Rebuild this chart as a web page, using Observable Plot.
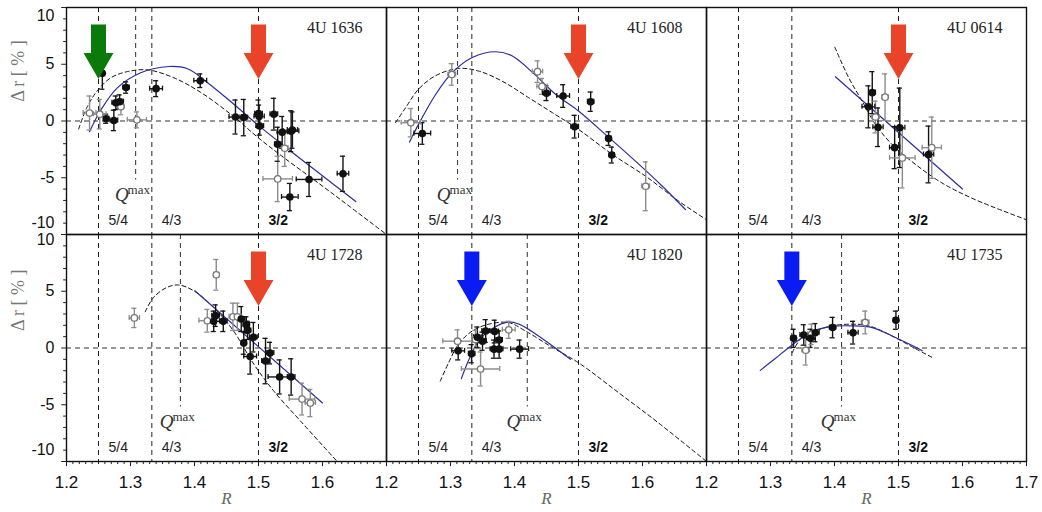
<!DOCTYPE html>
<html><head><meta charset="utf-8">
<script src="https://cdn.jsdelivr.net/npm/d3@7"></script>
<script src="https://cdn.jsdelivr.net/npm/@observablehq/plot@0.6"></script>
<style>body{margin:0;background:#fff}#chart{width:1042px;height:512px}</style>
</head><body><div id="chart"></div>
<script>
// ---- data ----
const sources = ["4U 1636", "4U 1608", "4U 0614", "4U 1728", "4U 1820", "4U 1735"];
const qmaxR = [1.308, 1.311, null, 1.378, 1.420, 1.411];
const arrowR = [[1.25, 1.5], [1.5], [1.5], [1.5], [4 / 3], [4 / 3]];
const arrowKind = [["green", "red"], ["red"], ["red"], ["red"], ["blue"], ["blue"]];
const resonances = [1.25, 4 / 3, 1.5];
const resonanceLabels = ["5/4", "4/3", "3/2"];
const xTickLabels = [[1.2, 1.3, 1.4, 1.5, 1.6], [1.2, 1.3, 1.4, 1.5, 1.6], [1.2, 1.3, 1.4, 1.5, 1.6, 1.7]];
const yTickLabels = [10, 5, 0, -5, -10];

// points: [R, delta r, xerr, yerr, open]
const pts1636 = [
  [1.256, 4.2, 0.003, 1.4, 0], [1.262, 0.2, 0.004, 0.4, 0], [1.274, 0.05, 0.006, 0.9, 0],
  [1.277, 1.6, 0.006, 0.6, 0], [1.283, 1.7, 0.006, 0.6, 0], [1.293, 2.95, 0.005, 0.5, 0],
  [1.340, 2.85, 0.010, 0.7, 0], [1.409, 3.55, 0.010, 0.6, 0], [1.464, 0.35, 0.010, 1.5, 0],
  [1.477, 0.3, 0.006, 1.6, 0], [1.500, 0.65, 0.006, 1.2, 0], [1.501, 0.4, 0.008, 1.0, 0],
  [1.502, -0.45, 0.006, 0.8, 0], [1.524, 0.6, 0.006, 1.4, 0], [1.537, -1.0, 0.008, 1.4, 0],
  [1.530, -2.05, 0.005, 1.5, 0], [1.551, -0.9, 0.012, 1.8, 0], [1.553, -0.8, 0.008, 1.6, 0],
  [1.579, -5.15, 0.020, 1.5, 0], [1.549, -6.7, 0.013, 1.2, 0], [1.632, -4.65, 0.009, 1.55, 0],
  [1.236, 0.7, 0.010, 1.5, 1], [1.252, 0.6, 0.010, 1.3, 1], [1.285, 1.25, 0.005, 0.7, 1],
  [1.310, 0.1, 0.015, 0.7, 1], [1.541, -2.4, 0.005, 1.6, 1], [1.530, -5.1, 0.023, 2.0, 1]
];
const pts1608 = [
  [1.256, -1.1, 0.013, 0.95, 0], [1.450, 2.45, 0.006, 0.65, 0], [1.476, 2.2, 0.010, 1.0, 0],
  [1.494, -0.5, 0.006, 1.0, 0], [1.519, 1.7, 0.005, 0.85, 0], [1.547, -1.55, 0.004, 0.6, 0],
  [1.552, -3.0, 0.004, 0.7, 0],
  [1.238, -0.15, 0.015, 1.25, 1], [1.302, 4.1, 0.006, 0.95, 1], [1.436, 4.35, 0.008, 0.95, 1],
  [1.443, 3.05, 0.008, 0.7, 1], [1.605, -5.75, 0.006, 2.15, 1]
];
const pts0614 = [
  [1.459, 2.5, 0.005, 1.85, 0], [1.453, 1.25, 0.010, 1.85, 0], [1.468, -0.55, 0.008, 1.7, 0],
  [1.494, -2.35, 0.008, 1.85, 0], [1.502, -0.6, 0.008, 3.5, 0], [1.547, -2.95, 0.008, 2.5, 0],
  [1.479, 2.1, 0.005, 2.05, 1], [1.464, 0.35, 0.006, 1.4, 1], [1.506, -3.25, 0.020, 2.65, 1],
  [1.552, -2.35, 0.015, 2.7, 1]
];
const pts1728 = [
  [1.433, 2.85, 0.006, 0.95, 0], [1.430, 2.35, 0.010, 0.9, 0], [1.445, 2.35, 0.006, 0.9, 0],
  [1.473, 2.55, 0.006, 1.1, 0], [1.481, 2.05, 0.005, 0.7, 0], [1.483, 1.55, 0.005, 0.8, 0],
  [1.477, 0.45, 0.004, 1.0, 0], [1.492, 0.95, 0.006, 1.3, 0], [1.487, -0.75, 0.010, 1.55, 0],
  [1.511, -1.15, 0.006, 2.0, 0], [1.518, -0.45, 0.006, 0.95, 0], [1.533, -2.55, 0.018, 1.5, 0],
  [1.551, -2.55, 0.006, 1.6, 0],
  [1.306, 2.65, 0.008, 0.85, 1], [1.434, 6.45, 0.004, 1.35, 1], [1.420, 2.4, 0.013, 1.0, 1],
  [1.460, 2.75, 0.006, 1.2, 1], [1.467, 2.75, 0.006, 1.2, 1], [1.568, -4.5, 0.020, 1.4, 1],
  [1.581, -4.85, 0.008, 1.2, 1]
];
const pts1820 = [
  [1.312, -0.25, 0.010, 0.8, 0], [1.333, -0.5, 0.005, 0.8, 0], [1.342, 0.95, 0.006, 0.9, 0],
  [1.350, 0.6, 0.006, 0.8, 0], [1.355, 1.5, 0.006, 1.0, 0], [1.369, 1.45, 0.006, 1.0, 0],
  [1.376, 0.7, 0.005, 0.8, 0], [1.368, -0.1, 0.006, 0.8, 0], [1.376, -0.1, 0.006, 0.8, 0],
  [1.408, -0.1, 0.014, 0.8, 0],
  [1.311, 0.6, 0.023, 1.0, 1], [1.339, 0.75, 0.006, 0.8, 1], [1.347, -1.85, 0.030, 1.5, 1],
  [1.391, 1.6, 0.010, 0.75, 1]
];
const pts1735 = [
  [1.336, 0.85, 0.004, 0.8, 0], [1.352, 1.15, 0.006, 0.9, 0], [1.3625, 0.85, 0.006, 0.8, 0],
  [1.370, 1.35, 0.006, 0.8, 0], [1.397, 1.8, 0.005, 0.9, 0], [1.429, 1.35, 0.008, 1.0, 0],
  [1.496, 2.45, 0.004, 0.8, 0],
  [1.355, -0.2, 0.006, 1.3, 1], [1.364, 1.2, 0.006, 0.9, 1], [1.448, 2.25, 0.006, 1.0, 1]
];

// model curves: [R, delta r]
const dash1636 = [[1.219, -0.7], [1.232, 1.2], [1.248, 2.65], [1.269, 3.8], [1.295, 4.35], [1.327, 4.5], [1.368, 3.8], [1.409, 2.55], [1.461, 0.4], [1.498, -1.4], [1.539, -3.2], [1.592, -5.4], [1.644, -7.6], [1.700, -10]];
const fit1636 = [[1.236, -0.95], [1.253, 0.9], [1.279, 2.9], [1.316, 4.25], [1.360, 4.8], [1.389, 4.6], [1.420, 3.4], [1.461, 1.5], [1.498, -0.3], [1.550, -2.65], [1.597, -4.7], [1.652, -7.1]];
const dash1608 = [[1.214, -0.15], [1.230, 1.18], [1.250, 2.8], [1.277, 4.0], [1.313, 4.63], [1.344, 4.4], [1.381, 3.5], [1.422, 2.06], [1.459, 0.74], [1.500, -0.74], [1.553, -2.95], [1.605, -4.87], [1.657, -7.08], [1.700, -8.7]];
const fit1608 = [[1.236, -1.86], [1.250, -0.3], [1.277, 2.36], [1.303, 4.28], [1.334, 5.6], [1.370, 6.1], [1.396, 5.75], [1.428, 4.28], [1.464, 2.36], [1.500, 0.88], [1.542, -1.18], [1.589, -3.54], [1.631, -5.75], [1.667, -7.8]];
const dash0614 = [[1.4005, 6.5], [1.422, 3.84], [1.443, 1.77], [1.464, -0.3], [1.490, -2.07], [1.527, -3.84], [1.568, -5.46], [1.620, -6.93], [1.700, -8.7]];
const fit0614 = [[1.4014, 3.9], [1.600, -5.99]];
const dash1728 = [[1.323, 3.19], [1.336, 4.45], [1.357, 5.34], [1.375, 5.55], [1.399, 5.04], [1.430, 3.57], [1.461, 1.5], [1.493, -1.45], [1.524, -3.8], [1.566, -6.46], [1.623, -10]];
const fit1728 = [[1.4005, 5.04], [1.600, -4.84]];
const dash1820 = [[1.284, -2.92], [1.297, -1.3], [1.3125, 0.33], [1.334, 1.5], [1.360, 2.1], [1.391, 2.24], [1.417, 1.5], [1.459, 0.06], [1.500, -1.3], [1.563, -3.95], [1.625, -6.6], [1.700, -10]];
const fit1820 = [[1.317, -2.7], [1.329, -1.0], [1.344, 0.62], [1.365, 1.7], [1.391, 2.3], [1.407, 2.1], [1.433, 1.24], [1.459, 0.2], [1.4875, -1.0]];
const dash1735 = [[1.334, -0.41], [1.3495, 0.97], [1.370, 1.5], [1.396, 1.95], [1.428, 2.1], [1.4536, 1.95], [1.485, 1.2], [1.5266, -0.06], [1.555, -0.9]];
const fit1735 = [[1.284, -1.97], [1.308, -0.9], [1.334, 0.27], [1.365, 1.45], [1.396, 1.9], [1.428, 1.95], [1.459, 1.8], [1.490, 1.06], [1.527, 0.06], [1.537, -0.24]];

// ---- build tables ----
const panelPts = [pts1636, pts1608, pts0614, pts1728, pts1820, pts1735];
const panelDash = [dash1636, dash1608, dash0614, dash1728, dash1820, dash1735];
const panelFit = [fit1636, fit1608, fit0614, fit1728, fit1820, fit1735];
const colOf = i => i % 3, rowOf = i => Math.floor(i / 3);
const palette = {green: "#0a7a0a", red: "#e9432a", blue: "#0b1cf2"};

const points = panelPts.flatMap((arr, i) => arr.map(([x, y, ex, ey, o]) => ({x, y, ex, ey, open: !!o, fx: colOf(i), fy: rowOf(i)})));
const curve = list => list.flatMap((arr, i) => arr.map(([x, y]) => ({x, y, p: i, fx: colOf(i), fy: rowOf(i)})));
const dashRows = curve(panelDash);
const fitRows = curve(panelFit);
const panels = sources.map((name, i) => ({name, q: qmaxR[i], fx: colOf(i), fy: rowOf(i)}));
const resRows = panels.flatMap(p => resonances.map((r, k) => ({x: r, label: resonanceLabels[k], bold: k === 2, fx: p.fx, fy: p.fy})));
const qRows = panels.filter(p => p.q != null);

// arrow polygons
const AT = 8.5, AN = 6.0, ATIP = 3.7, SW = 0.0117, HW = 0.0234;
const arrowRows = arrowR.flatMap((list, i) => list.map((r, k) => ({r, color: palette[arrowKind[i][k]], id: i + "-" + k, fx: colOf(i), fy: rowOf(i)})))
  .flatMap(a => [[a.r - SW, AT], [a.r + SW, AT], [a.r + SW, AN], [a.r + HW, AN], [a.r, ATIP], [a.r - HW, AN], [a.r - SW, AN], [a.r - SW, AT]]
    .map(([x, y]) => ({x, y, id: a.id, color: a.color, fx: a.fx, fy: a.fy})));

// error bars
const barCol = d => d.open ? "#8c8c8c" : "#141414";
const yCaps = points.flatMap(d => [d.y - d.ey, d.y + d.ey].map(v => ({...d, cy: v})));
const xBars = points.filter(d => d.ex > 0);
const xCaps = xBars.flatMap(d => [d.x - d.ex, d.x + d.ex].map(v => ({...d, cx: v})));

// axes
const yTicks = d3.range(-10, 11).map(v => ({v, major: v % 5 === 0, fx: 0}));
const yTickRows = [0, 1].flatMap(r => yTicks.map(t => ({...t, fy: r})));
const yLabelRows = [0, 1].flatMap(r => yTickLabels.map(v => ({v, ly: v === 10 ? (r === 0 ? 9.3 : 9.55) : v === -10 ? -8.95 : v, fx: 0, fy: r})));
const xTickRows = [0, 1, 2].flatMap(c => d3.range(120, 171).map(k => ({v: k / 100, major: k % 10 === 0, fx: c, fy: 1})));
const xLabelRows = xTickLabels.flatMap((arr, c) => arr.map(v => ({v, fx: c, fy: 1})));

const fxy = {fx: "fx", fy: "fy"};
const serif = "Liberation Serif, Times New Roman, serif";
const sans = "Liberation Sans, Arial, sans-serif";

const chart = Plot.plot({
  width: 1042, height: 512,
  marginLeft: 66, marginRight: 16, marginTop: 7, marginBottom: 51,
  style: {fontFamily: sans, background: "#fff"},
  fx: {domain: [0, 1, 2], padding: 0, axis: null, label: null},
  fy: {domain: [0, 1], padding: 0, axis: null, label: null},
  x: {domain: [1.2, 1.7], axis: null},
  y: {domain: [-10, 10], axis: null},
  color: {type: "identity"},
  marks: [
    // reference lines
    Plot.ruleY(panels, {y: () => 0, ...fxy, stroke: "#333", strokeWidth: 1.1, strokeDasharray: "5,4"}),
    Plot.ruleX(resRows, {x: "x", ...fxy, stroke: "#222", strokeWidth: 1, strokeDasharray: "5,4"}),
    Plot.ruleX(qRows, {x: "q", y1: 10, y2: -5.2, ...fxy, stroke: "#444", strokeWidth: 1.1, strokeDasharray: "5,4"}),
    // curves
    Plot.line(dashRows, {x: "x", y: "y", z: "p", ...fxy, stroke: "#111", strokeWidth: 1, strokeDasharray: "4,3", curve: "catmull-rom"}),
    Plot.line(fitRows, {x: "x", y: "y", z: "p", ...fxy, stroke: "#2c2c9c", strokeWidth: 1.2, curve: "catmull-rom"}),
    // error bars
    Plot.ruleX(points, {x: "x", y1: d => d.y - d.ey, y2: d => d.y + d.ey, ...fxy, stroke: barCol, strokeWidth: 1.4}),
    Plot.ruleY(yCaps, {y: "cy", x1: d => d.x - 0.004, x2: d => d.x + 0.004, ...fxy, stroke: barCol, strokeWidth: 1.3}),
    Plot.ruleY(xBars, {y: "y", x1: d => d.x - d.ex, x2: d => d.x + d.ex, ...fxy, stroke: barCol, strokeWidth: 1.4}),
    Plot.ruleX(xCaps, {x: "cx", y1: d => d.y - 0.22, y2: d => d.y + 0.22, ...fxy, stroke: barCol, strokeWidth: 1.3}),
    // points
    Plot.dot(points.filter(d => d.open), {x: "x", y: "y", ...fxy, r: 3.2, fill: "#fff", stroke: "#777", strokeWidth: 1.3}),
    Plot.dot(points.filter(d => !d.open), {x: "x", y: "y", ...fxy, r: 3.8, fill: "#111", stroke: "none"}),
    // arrows
    Plot.line(arrowRows, {x: "x", y: "y", z: "id", ...fxy, fill: "color", stroke: "none", curve: "linear"}),
    // texts
    Plot.text(panels, {text: "name", ...fxy, frameAnchor: "top-right", textAnchor: "end", lineAnchor: "middle", dx: -24, dy: 20, fontFamily: serif, fontSize: 16, fill: "#222"}),
    Plot.text(resRows.filter(d => !d.bold), {x: "x", text: "label", ...fxy, frameAnchor: "bottom", textAnchor: "start", lineAnchor: "middle", dx: 10, dy: -14, fontSize: 14, fill: "#222"}),
    Plot.text(resRows.filter(d => d.bold), {x: "x", text: "label", ...fxy, frameAnchor: "bottom", textAnchor: "start", lineAnchor: "middle", dx: 10, dy: -14, fontSize: 14, fontWeight: "bold", fill: "#111"}),
    Plot.text(qRows, {x: "q", y: -5.2, text: () => "Q", ...fxy, textAnchor: "end", lineAnchor: "middle", dx: -7, dy: 15, fontFamily: serif, fontStyle: "italic", fontSize: 19, fill: "#333"}),
    Plot.text(qRows, {x: "q", y: -5.2, text: () => "max", ...fxy, textAnchor: "start", lineAnchor: "middle", dx: -8, dy: 10, fontFamily: serif, fontSize: 13, fill: "#333"}),
    // y axis
    Plot.ruleY(yTickRows, {y: "v", x1: 1.2, x2: d => 1.2 - (d.major ? 0.0075 : 0.0045), ...fxy, stroke: "#222", strokeWidth: 1}),
    Plot.text(yLabelRows, {x: () => 1.2, y: "ly", text: d => String(d.v), ...fxy, textAnchor: "end", lineAnchor: "middle", dx: -12, fontSize: 16, fill: "#111"}),
    Plot.text([0, 1].map(r => ({fx: 0, fy: r, ly: r === 0 ? 4.4 : 4.2})), {x: () => 1.2, y: "ly", text: () => "\u0394 r [ % ]", ...fxy, rotate: -90, dx: -48, fontFamily: serif, fontSize: 18, fill: "#777"}),
    // x axis
    Plot.ruleX(xTickRows, {x: "v", y1: -10, y2: d => -10 - (d.major ? 0.45 : 0.27), ...fxy, stroke: "#222", strokeWidth: 1}),
    Plot.text(xLabelRows, {x: "v", y: () => -10, text: d => d.v.toFixed(1), ...fxy, lineAnchor: "middle", dy: 21, fontSize: 17, fill: "#111"}),
    Plot.text([0, 1, 2].map(c => ({fx: c, fy: 1})), {x: () => 1.45, y: () => -10, text: () => "R", ...fxy, lineAnchor: "middle", dy: 37, fontFamily: serif, fontStyle: "italic", fontSize: 17, fill: "#666"}),
    Plot.frame({stroke: "#111", strokeWidth: 1.4})
  ]
});
document.getElementById("chart").append(chart);
</script>
</body></html>
